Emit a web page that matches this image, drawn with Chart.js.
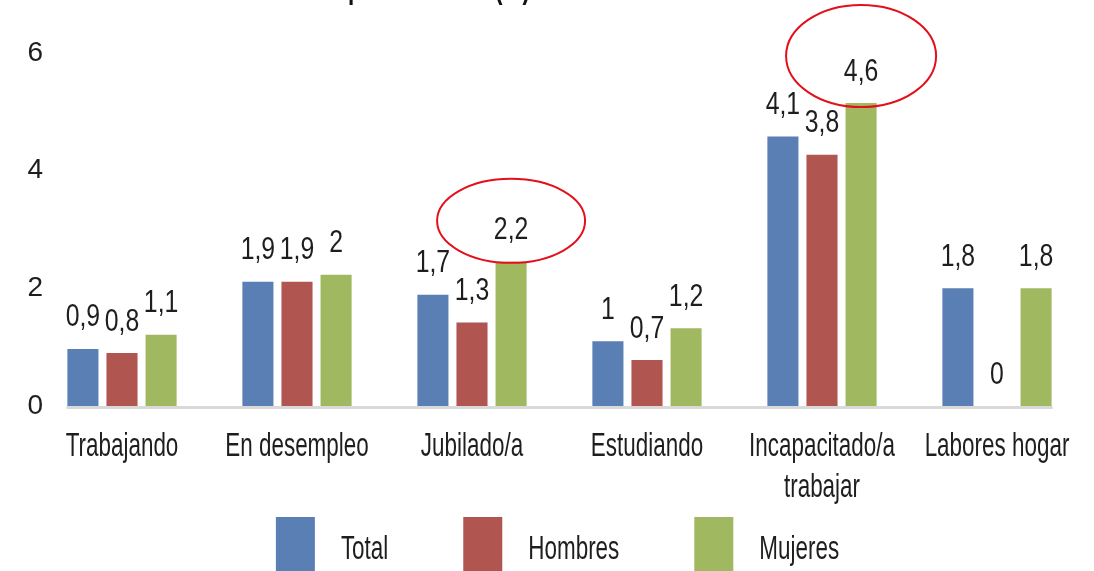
<!DOCTYPE html>
<html>
<head>
<meta charset="utf-8">
<script src="https://cdn.jsdelivr.net/npm/chart.js@4.4.1/dist/chart.umd.min.js"></script>
<style>
  html, body { margin: 0; padding: 0; background: #fff; }
  #wrap { width: 1094px; height: 571px; position: relative; }
</style>
</head>
<body>
<div id="wrap"><canvas id="chart"></canvas></div>
<script>
// categorías (cada una en líneas)
const categories = [['Trabajando'], ['En desempleo'], ['Jubilado/a'], ['Estudiando'], ['Incapacitado/a', 'trabajar'], ['Labores hogar']];
const seriesNames = ['Total', 'Hombres', 'Mujeres'];

// altura de las barras tal como aparecen en el gráfico
const totalBars   = [0.97, 2.11, 1.89, 1.10, 4.58, 2.00];
const hombresBars = [0.90, 2.11, 1.42, 0.78, 4.27, 0];
const mujeresBars = [1.21, 2.23, 2.45, 1.32, 5.15, 2.00];

// etiquetas de datos (%)
const totalLabels   = [0.9, 1.9, 1.7, 1, 4.1, 1.8];
const hombresLabels = [0.8, 1.9, 1.3, 0.7, 3.8, 0];
const mujeresLabels = [1.1, 2, 2.2, 1.2, 4.6, 1.8];

const yTicks = [0, 2, 4, 6];
const titleText = 'Prevalencia por situación (%)';

// categorías marcadas con elipse roja (serie Mujeres)
const highlights = [
  { index: 2, rx: 74, ry: 42, dy: 41 },
  { index: 4, rx: 75, ry: 51, dy: 47 }
];

const colors = ['#5a7fb5', '#b0554f', '#a0b960'];
const FONT = '"Liberation Sans", Arial, sans-serif';
const TEXT_SQ = 0.68;   // fuente condensada (texto)
const NUM_SQ = 0.8;     // fuente condensada (números)
const fmt = v => String(v).replace('.', ',');

function squeezedText(ctx, text, x, y, align, sq) {
  ctx.save();
  ctx.translate(x, y);
  ctx.scale(sq, 1);
  ctx.textAlign = align || 'center';
  ctx.fillText(text, 0, 0);
  ctx.restore();
}

const baselinePlugin = {
  id: 'baseline',
  beforeDatasetsDraw(chart) {
    const first = chart.getDatasetMeta(0).data[0];
    const last = chart.getDatasetMeta(2).data[categories.length - 1];
    const y0 = chart.scales.y.getPixelForValue(0);
    const ctx = chart.ctx;
    ctx.save();
    ctx.strokeStyle = '#d9d9d9';
    ctx.lineWidth = 3;
    ctx.beginPath();
    ctx.moveTo(first.x - first.width / 2 - 1, y0 + 1.5);
    ctx.lineTo(last.x + last.width / 2 + 1, y0 + 1.5);
    ctx.stroke();
    ctx.restore();
  }
};

const labelsPlugin = {
  id: 'barLabels',
  afterDatasetsDraw(chart) {
    const ctx = chart.ctx;
    const texts = [totalLabels, hombresLabels, mujeresLabels];
    ctx.save();
    ctx.font = '31px ' + FONT;
    ctx.fillStyle = '#1e1e1e';
    ctx.textBaseline = 'middle';
    chart.data.datasets.forEach((ds, di) => {
      chart.getDatasetMeta(di).data.forEach((bar, i) => {
        squeezedText(ctx, fmt(texts[di][i]), bar.x, bar.y - 31, 'center', NUM_SQ);
      });
    });
    ctx.restore();
  }
};

const xLabelsPlugin = {
  id: 'xLabels',
  afterDraw(chart) {
    const ctx = chart.ctx;
    const xs = chart.scales.x;
    const bottom = chart.chartArea.bottom;
    ctx.save();
    ctx.font = '33px ' + FONT;
    ctx.fillStyle = '#1e1e1e';
    ctx.textBaseline = 'middle';
    categories.forEach((lines, i) => {
      const x = xs.getPixelForTick(i);
      lines.forEach((line, k) => squeezedText(ctx, line, x, bottom + 41 + k * 41, 'center', TEXT_SQ));
    });
    ctx.restore();
  }
};

const highlightPlugin = {
  id: 'highlights',
  afterDraw(chart) {
    const ctx = chart.ctx;
    const meta = chart.getDatasetMeta(2);
    ctx.save();
    ctx.strokeStyle = '#e3101c';
    ctx.lineWidth = 2;
    highlights.forEach(h => {
      const bar = meta.data[h.index];
      ctx.beginPath();
      ctx.ellipse(bar.x, bar.y - h.dy, h.rx, h.ry, 0, 0, Math.PI * 2);
      ctx.stroke();
    });
    ctx.restore();
  }
};

const legendPlugin = {
  id: 'bottomLegend',
  afterDraw(chart) {
    const ctx = chart.ctx;
    const boxW = 39, gapText = 26, gapItem = 75;
    ctx.save();
    ctx.font = '33px ' + FONT;
    const widths = seriesNames.map(n => ctx.measureText(n).width * TEXT_SQ);
    const total = widths.reduce((s, w) => s + boxW + gapText + w, 0) + gapItem * (seriesNames.length - 1);
    const area = chart.chartArea;
    let x = (area.left + area.right) / 2 - total / 2 - 2;
    const boxTop = chart.height - 54;
    ctx.textBaseline = 'middle';
    seriesNames.forEach((n, i) => {
      ctx.fillStyle = colors[i];
      ctx.fillRect(x, boxTop, boxW, 60);
      ctx.fillStyle = '#1e1e1e';
      squeezedText(ctx, n, x + boxW + gapText, chart.height - 21, 'left', TEXT_SQ);
      x += boxW + gapText + widths[i] + gapItem;
    });
    ctx.restore();
  }
};

const titlePlugin = {
  id: 'cutTitle',
  afterDraw(chart) {
    const ctx = chart.ctx;
    ctx.save();
    ctx.font = 'bold 33px ' + FONT;
    ctx.fillStyle = '#111';
    ctx.textBaseline = 'alphabetic';
    squeezedText(ctx, titleText, 530, -2, 'right', TEXT_SQ);
    ctx.restore();
  }
};

new Chart(document.getElementById('chart').getContext('2d'), {
  type: 'bar',
  data: {
    labels: categories,
    datasets: [
      { label: seriesNames[0], data: totalBars, backgroundColor: colors[0] },
      { label: seriesNames[1], data: hombresBars, backgroundColor: colors[1] },
      { label: seriesNames[2], data: mujeresBars, backgroundColor: colors[2] }
    ]
  },
  options: {
    responsive: true,
    maintainAspectRatio: false,
    animation: false,
    layout: { padding: { left: 34.5, right: 9.5, top: 53, bottom: 165 } },
    datasets: { bar: { categoryPercentage: 0.67, barPercentage: 0.795 } },
    scales: {
      x: {
        grid: { display: false },
        border: { display: false },
        ticks: { display: false },
        afterFit: s => { s.height = 0; }
      },
      y: {
        min: 0,
        max: 6,
        afterBuildTicks: s => { s.ticks = yTicks.map(v => ({ value: v })); },
        grid: { display: false },
        border: { display: false },
        ticks: {
          mirror: true,
          padding: -5,
          color: '#1e1e1e',
          font: { family: FONT, size: 28 }
        }
      }
    },
    plugins: {
      legend: { display: false },
      tooltip: { enabled: false }
    }
  },
  plugins: [baselinePlugin, labelsPlugin, xLabelsPlugin, highlightPlugin, legendPlugin, titlePlugin]
});
</script>
</body>
</html>
